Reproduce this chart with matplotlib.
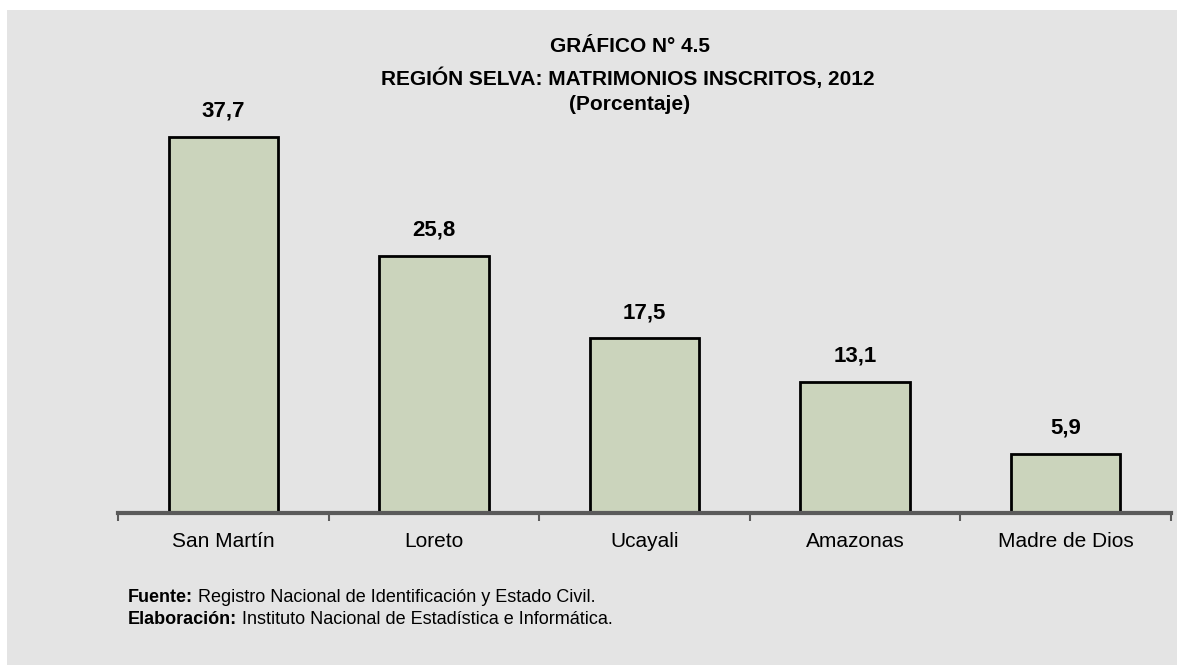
import matplotlib
matplotlib.use("Agg")
import matplotlib.pyplot as plt
from matplotlib.patches import Rectangle
import numpy as np

plt.rcParams["font.family"] = ["Liberation Sans Narrow", "Liberation Sans", "DejaVu Sans"]

regiones = ["San Martín", "Loreto", "Ucayali", "Amazonas", "Madre de Dios"]
porcentaje = [37.7, 25.8, 17.5, 13.1, 5.9]
etiquetas = ["37,7", "25,8", "17,5", "13,1", "5,9"]

BG = "#e4e4e4"
BAR = "#cbd4bc"

fig = plt.figure(figsize=(11.77, 6.65), dpi=100)
fig.patch.set_facecolor("white")
fig.patches.append(Rectangle((7 / 1177, 0), 1, 1 - 10 / 665, transform=fig.transFigure,
                             facecolor=BG, edgecolor="none", zorder=-10))

ax = fig.add_axes([118 / 1177, 152 / 665, 1053 / 1177, 0.6])
ax.set_facecolor("none")
x = np.arange(len(regiones))
ax.bar(x, porcentaje, width=0.52, color=BAR, edgecolor="black", linewidth=2)
for xi, v, lab in zip(x, porcentaje, etiquetas):
    ax.text(xi, v + 2.6, lab, ha="center", va="center", fontsize=16, fontweight="bold")

ax.set_xlim(-0.5, len(regiones) - 0.5)
ax.set_ylim(0, 40)
for s in ["top", "right", "left"]:
    ax.spines[s].set_visible(False)
ax.spines["bottom"].set_color("#5a5a5a")
ax.spines["bottom"].set_linewidth(3)
ax.set_yticks([])
ax.set_xticks(np.arange(-0.5, len(regiones), 1.0))
ax.set_xticklabels([])
ax.tick_params(axis="x", length=6, width=1.5, color="#5a5a5a", direction="out")
ax.set_xticks(x, minor=True)
ax.set_xticklabels(regiones, minor=True, fontsize=15)
ax.tick_params(axis="x", which="minor", length=0, pad=14)

fig.text(630 / 1177, 1 - 47 / 665, "GRÁFICO N° 4.5", ha="center", va="center",
         fontsize=15, fontweight="bold")
fig.text(628 / 1177, 1 - 78 / 665, "REGIÓN SELVA: MATRIMONIOS INSCRITOS, 2012", ha="center",
         va="center", fontsize=15, fontweight="bold")
fig.text(630 / 1177, 1 - 105 / 665, "(Porcentaje)", ha="center", va="center",
         fontsize=15, fontweight="bold")

t1 = fig.text(128 / 1177, 1 - 597 / 665, "Fuente:", ha="left", va="center",
              fontsize=13, fontweight="bold")
t2 = fig.text(128 / 1177, 1 - 620 / 665, "Elaboración:", ha="left", va="center",
              fontsize=13, fontweight="bold")
ax.annotate(" Registro Nacional de Identificación y Estado Civil.", xy=(1, 0.5),
            xycoords=t1, va="center", ha="left", fontsize=13, annotation_clip=False)
ax.annotate(" Instituto Nacional de Estadística e Informática.", xy=(1, 0.5),
            xycoords=t2, va="center", ha="left", fontsize=13, annotation_clip=False)

fig.savefig("out.png", dpi=100, facecolor=fig.get_facecolor())
